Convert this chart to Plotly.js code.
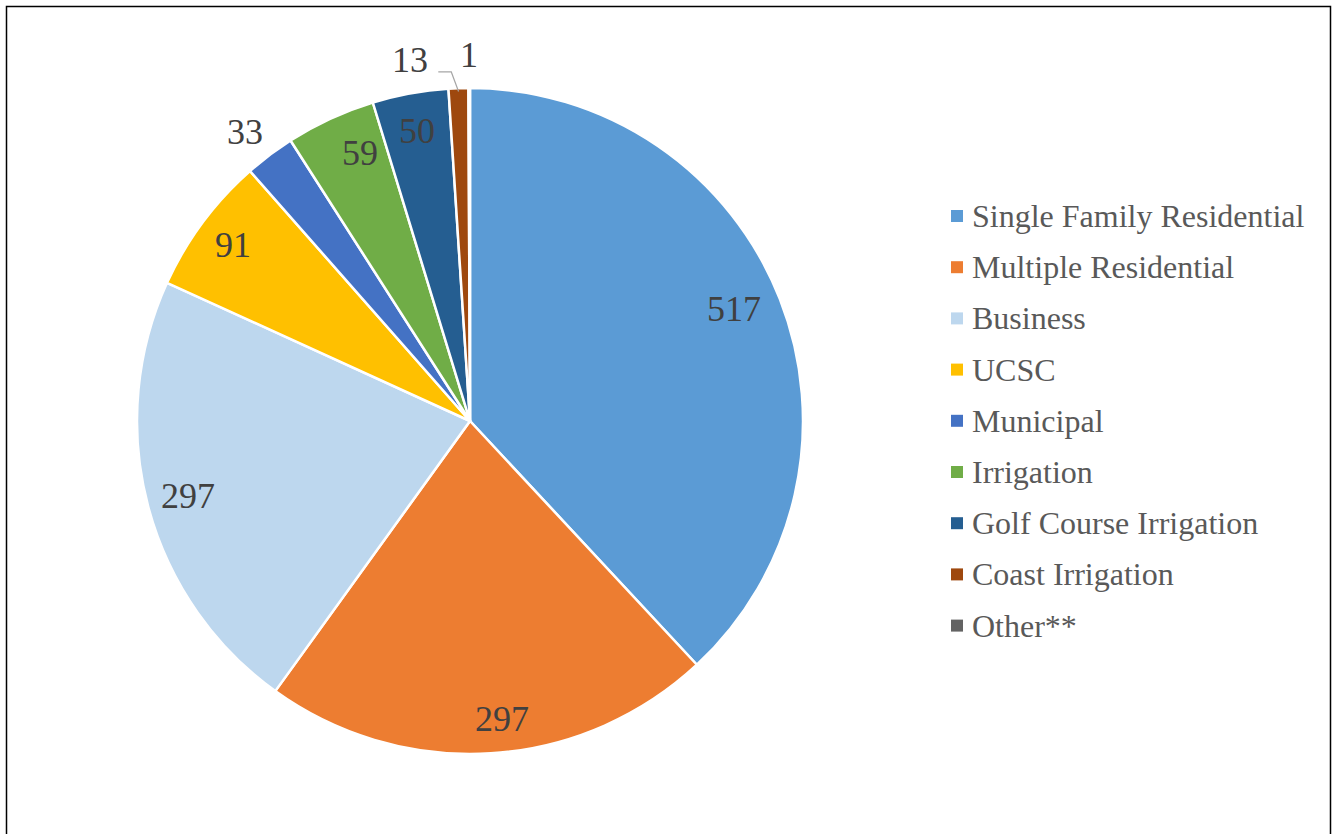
<!DOCTYPE html>
<html>
<head>
<meta charset="utf-8">
<script src="https://cdn.plot.ly/plotly-3.0.1.min.js"></script>
<style>html,body{margin:0;padding:0;background:#fff;}#chart{width:1332px;height:834px;}</style>
</head>
<body>
<div id="chart"></div>
<script>
const categories = ["Single Family Residential","Multiple Residential","Business","UCSC","Municipal","Irrigation","Golf Course Irrigation","Coast Irrigation","Other**"];
const values = [517, 297, 297, 91, 33, 59, 50, 13, 1];
const colors = ["#5B9BD5","#ED7D31","#BDD7EE","#FFC000","#4472C4","#70AD47","#255E91","#9E480E","#636363"];

// label placement (layout only): radius as fraction of pie radius, angle nudge in degrees
const labelRadius = [0.86, 0.90, 0.875, 0.885, 1.10, 0.87, 0.885, 1.10, 1.10];
const labelNudge  = [-1.5, -2.5, 0, 0, -1, 2.5, 0, 0, 0];

const FONT = "Liberation Serif";
const W = 1332, H = 834;
const cx = 470, cy = 421, R = 333;
const px2x = x => x / W, px2y = y => 1 - y / H;

const trace = {
  type: "pie",
  labels: categories,
  values: values,
  sort: false,
  direction: "clockwise",
  rotation: 0,
  marker: {colors: colors, line: {color: "#ffffff", width: 2.5}},
  textinfo: "none",
  hoverinfo: "none",
  showlegend: false,
  domain: {x: [px2x(cx - R), px2x(cx + R)], y: [px2y(cy + R), px2y(cy - R)]}
};

const annotations = [];
const shapes = [];

// value labels, placed from each slice's mid angle
const total = values.reduce((a, b) => a + b, 0);
let cum = 0;
values.forEach((v, i) => {
  const mid = (cum + v / 2) / total * 2 * Math.PI + labelNudge[i] * Math.PI / 180;
  cum += v;
  const r = labelRadius[i] * R;
  let lx = cx + r * Math.sin(mid), ly = cy - r * Math.cos(mid);
  if (categories[i] === "Coast Irrigation") {
    // moved left of the crowded top, with a leader line back to its slice
    const ex = cx + R * 0.99 * Math.sin(mid), ey = cy - R * 0.99 * Math.cos(mid);
    const tx = lx - 47, ty = ly + 5;
    shapes.push({type: "path", xref: "paper", yref: "paper",
      path: `M ${px2x(tx + 28)} ${px2y(ty + 12)} L ${px2x(tx + 41)} ${px2y(ty + 12)} L ${px2x(ex)} ${px2y(ey)}`,
      line: {color: "#A6A6A6", width: 1.2}});
    lx = tx; ly = ty;
  }
  annotations.push({xref: "paper", yref: "paper", x: px2x(lx), y: px2y(ly),
    xanchor: "center", yanchor: "middle", showarrow: false, text: String(v),
    font: {family: FONT, size: 36, color: "#404040"}});
});

// legend
const legX = 957, legY0 = 216, legStep = 51.2, sq = 12;
categories.forEach((c, i) => {
  const y = legY0 + i * legStep;
  shapes.push({type: "rect", xref: "paper", yref: "paper",
    x0: px2x(legX - sq / 2), x1: px2x(legX + sq / 2),
    y0: px2y(y + sq / 2), y1: px2y(y - sq / 2),
    fillcolor: colors[i], line: {width: 0}});
  annotations.push({xref: "paper", yref: "paper", x: px2x(legX + 13), y: px2y(y),
    xanchor: "left", yanchor: "middle", showarrow: false, text: c,
    font: {family: FONT, size: 32, color: "#595959"}});
});

// chart frame
shapes.push({type: "rect", xref: "paper", yref: "paper",
  x0: px2x(6.5), x1: px2x(1330.5), y0: -0.05, y1: px2y(6.5),
  line: {color: "#000000", width: 1.5}, fillcolor: "rgba(0,0,0,0)"});

const layout = {
  width: W, height: H,
  margin: {l: 0, r: 0, t: 0, b: 0},
  paper_bgcolor: "#ffffff",
  plot_bgcolor: "#ffffff",
  showlegend: false,
  annotations: annotations,
  shapes: shapes
};

Plotly.newPlot("chart", [trace], layout, {displayModeBar: false, staticPlot: true});
</script>
</body>
</html>
